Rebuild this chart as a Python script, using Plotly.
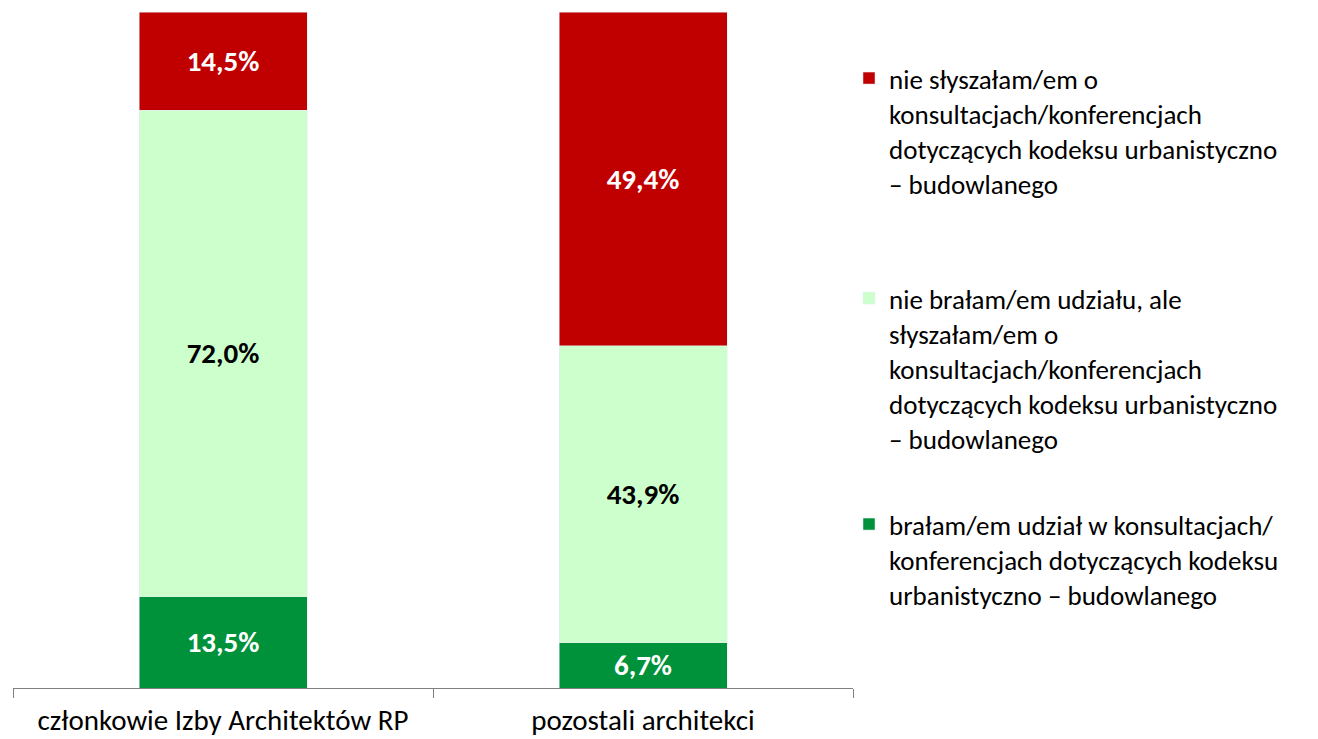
import plotly.graph_objects as go

categories = ["członkowie Izby Architektów RP", "pozostali architekci"]
took_part = [13.5, 6.7]
heard_not_part = [72.0, 43.9]
not_heard = [14.5, 49.4]

name_took = "brałam/em udział w konsultacjach/<br>konferencjach dotyczących kodeksu<br>urbanistyczno – budowlanego"
name_heard = "nie brałam/em udziału, ale<br>słyszałam/em o<br>konsultacjach/konferencjach<br>dotyczących kodeksu urbanistyczno<br>– budowlanego"
name_not = "nie słyszałam/em o<br>konsultacjach/konferencjach<br>dotyczących kodeksu urbanistyczno<br>– budowlanego"

FONT = "Carlito, Lato, sans-serif"
LBL = 29

fig = go.Figure()
fig.add_trace(go.Bar(
    x=categories, y=took_part, name=name_took, marker_color="#00923A",
    texttemplate="<b>%{y:.1f}%</b>", textposition="inside", insidetextanchor="middle",
    textfont=dict(color="white", size=LBL, family=FONT), legend="legend3",
))
fig.add_trace(go.Bar(
    x=categories, y=heard_not_part, name=name_heard, marker_color="#CCFFCC",
    texttemplate="<b>%{y:.1f}%</b>", textposition="inside", insidetextanchor="middle",
    textfont=dict(color="black", size=LBL, family=FONT), legend="legend2",
))
fig.add_trace(go.Bar(
    x=categories, y=not_heard, name=name_not, marker_color="#C00000",
    texttemplate="<b>%{y:.1f}%</b>", textposition="inside", insidetextanchor="middle",
    textfont=dict(color="white", size=LBL, family=FONT), legend="legend",
))

leg_common = dict(font=dict(size=27, family=FONT, color="black"), valign="top",
                  bgcolor="rgba(0,0,0,0)", xanchor="left", yanchor="top")
LX = (849 - 13) / 840

fig.update_layout(
    width=1310, height=731,
    margin=dict(l=5, r=465, t=4, b=51, autoexpand=False),
    barmode="stack", bargap=0.6,
    separators=", ",
    showlegend=True,
    paper_bgcolor="white", plot_bgcolor="white",
    font=dict(family=FONT, color="black"),
    uniformtext=dict(mode=False),
    xaxis=dict(showline=True, linecolor="#808080", linewidth=1, ticks="outside",
               tickson="boundaries", ticklen=9, tickcolor="#808080", automargin=False,
               ticklabelstandoff=6,
               tickfont=dict(size=29, family=FONT, color="black"), showgrid=False),
    yaxis=dict(range=[0, 100], visible=False),
    legend=dict(x=LX, y=1 - (54 - 12) / 676, **leg_common),
    legend2=dict(x=LX, y=1 - (274 - 12) / 676, **leg_common),
    legend3=dict(x=LX, y=1 - (500 - 12) / 676, **leg_common),
)

fig.write_html("out.html")
